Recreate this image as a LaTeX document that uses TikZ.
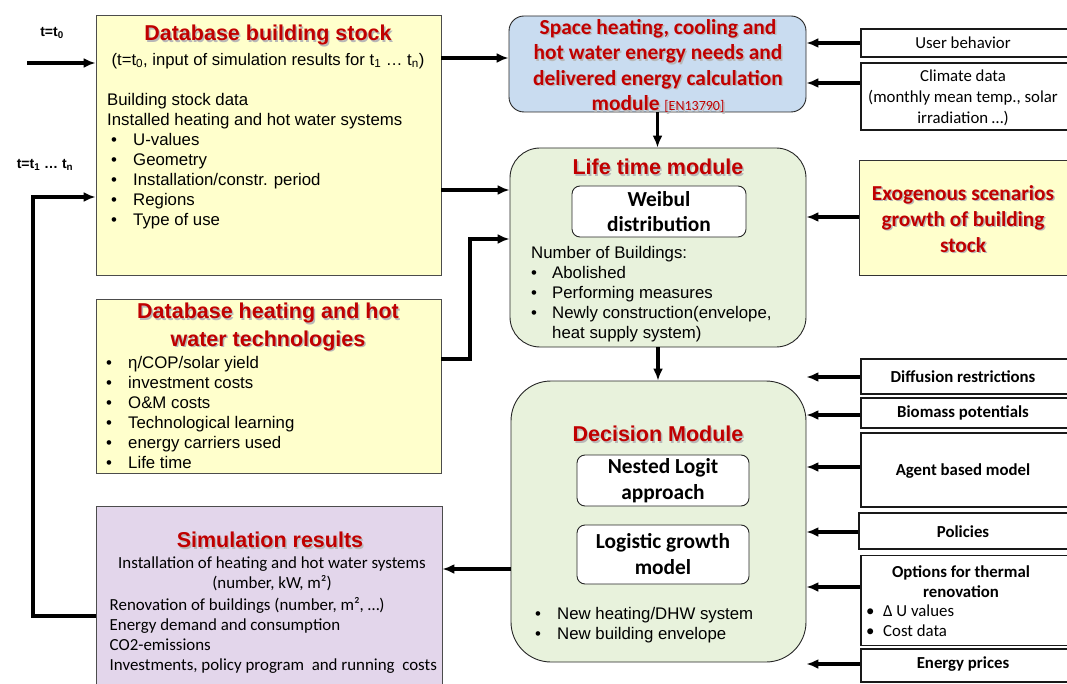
\documentclass[tikz,border=0pt]{standalone}
\usepackage{fontspec}
\setmainfont{Liberation Sans}
\newfontfamily\calib{Carlito}
\usetikzlibrary{arrows.meta}
\definecolor{tred}{HTML}{C00000}
\definecolor{yel}{HTML}{FFFFCC}
\definecolor{blu}{HTML}{C9DCF0}
\definecolor{grn}{HTML}{E8F2DC}
\definecolor{pur}{HTML}{E3D6EB}
\newcommand\bl[1]{\makebox[#1][l]{•}}
\newcommand\shtitle[4]{%
  \node[text=black!28, font=#3, align=center, xshift=1.5pt, yshift=-1.5pt] at (#2) {#4};
  \node[text=tred, font=#3, align=center] (#1) at (#2) {#4};}
\tikzset{
  ybox/.style={draw=black!70, fill=yel, line width=0.9pt, inner sep=0},
  rbox/.style={draw=black!85, line width=0.9pt, inner sep=0, rounded corners=#1},
  ibox/.style={draw=black!85, fill=white, line width=0.9pt, inner sep=0, rounded corners=8pt},
  wbox/.style={draw=black!90, fill=white, line width=1.1pt, inner sep=0},
  arr/.style={line width=3.2pt, -{Latex[length=12pt,width=10pt]}},
  body/.style={font=\fontsize{16.8}{20}\selectfont, align=left, inner sep=0, anchor=north west},
  rtxt/.style={font=\calib\fontsize{16.8}{21}\selectfont, align=center},
  rbold/.style={font=\calib\bfseries\fontsize{16.8}{20}\selectfont, align=center},
}
\begin{document}
\begin{tikzpicture}[x=1pt,y=-1pt]
\useasboundingbox (0,0) rectangle (1067,684);
\clip (0,0) rectangle (1067,684);

% ---------- boxes ----------
\node[ybox, minimum width=345pt, minimum height=260pt] (dbs) at (268.5,145) {};
\node[ybox, minimum width=345pt, minimum height=174pt] (dbh) at (268.5,386) {};
\node[draw=black!70, fill=pur, line width=0.9pt, inner sep=0, minimum width=346pt, minimum height=195pt] (sim) at (269,603.5) {};
\node[rbox=15pt, fill=blu, minimum width=297pt, minimum height=96pt] (space) at (657.5,64) {};
\node[rbox=30pt, fill=grn, minimum width=296pt, minimum height=199pt] (life) at (658,247.5) {};
\node[rbox=40pt, fill=grn, minimum width=295pt, minimum height=281pt] (dec) at (658.5,521.5) {};
\node[ibox, minimum width=174pt, minimum height=51pt] (weib) at (659,211.5) {};
\node[ibox, minimum width=172pt, minimum height=51pt] (nest) at (663,480.5) {};
\node[ibox, minimum width=172pt, minimum height=59pt] (logi) at (663,554.5) {};
\node[ybox, draw=black!80, minimum width=211pt, minimum height=115pt] (exo) at (964.5,217.5) {};
\node[wbox, minimum width=209pt, minimum height=28pt] (user) at (965.5,43) {};
\node[wbox, minimum width=209pt, minimum height=67pt] (clim) at (965.5,96.5) {};
\node[wbox, minimum width=209pt, minimum height=35pt] (diff) at (965.5,376.5) {};
\node[wbox, minimum width=209pt, minimum height=30pt] (bio) at (965.5,413) {};
\node[wbox, minimum width=209pt, minimum height=74pt] (agent) at (965.5,470) {};
\node[wbox, minimum width=211pt, minimum height=36pt] (pol) at (964.5,531) {};
\node[wbox, minimum width=209pt, minimum height=90pt] (opt) at (965.5,600.5) {};
\node[wbox, minimum width=209pt, minimum height=33pt] (epr) at (965.5,665.5) {};

% ---------- titles ----------
\shtitle{tdbs}{268,35}{\bfseries\fontsize{21.5}{27}\selectfont}{Database building stock}
\shtitle{tdbh}{268,327}{\bfseries\fontsize{21.5}{27.5}\selectfont}{Database heating and hot\\water technologies}
\shtitle{tsim}{270,540}{\bfseries\fontsize{21.5}{27}\selectfont}{Simulation results}
\shtitle{tlife}{658,167}{\bfseries\fontsize{21.5}{27}\selectfont}{Life time module}
\shtitle{tdec}{658,434}{\bfseries\fontsize{21.5}{27}\selectfont}{Decision Module}
\shtitle{tspace}{658,66}{\calib\bfseries\fontsize{21.4}{25.5}\selectfont}{Space heating, cooling and\\hot water energy needs and\\delivered energy calculation\\module {\mdseries\fontsize{14}{14}\selectfont[EN13790]}}
\shtitle{texo}{963,219}{\calib\bfseries\fontsize{21.3}{26}\selectfont}{Exogenous scenarios\\growth of building\\stock}

% ---------- texts ----------
\node[font=\bfseries\fontsize{14}{16}\selectfont] (lt0) at (52,33) {t=t\textsubscript{0}};
\node[font=\bfseries\fontsize{14}{16}\selectfont] (lt1) at (45,165) {t=t\textsubscript{1} … t\textsubscript{n}};
\node[font=\fontsize{16.7}{20}\selectfont] (sub) at (268,61) {(t=t\textsubscript{0}, input of simulation results for t\textsubscript{1} … t\textsubscript{n})};
\node[body] (dbstxt) at (107,92.8) {Building stock data\\Installed heating and hot water systems\\
\hspace*{4pt}\bl{22pt}U-values\\\hspace*{4pt}\bl{22pt}Geometry\\\hspace*{4pt}\bl{22pt}Installation/constr. period\\
\hspace*{4pt}\bl{22pt}Regions\\\hspace*{4pt}\bl{22pt}Type of use};
\node[body] (dbhtxt) at (106,355.8) {\bl{22pt}η/COP/solar yield\\\bl{22pt}investment costs\\\bl{22pt}O\&M costs\\
\bl{22pt}Technological learning\\\bl{22pt}energy carriers used\\\bl{22pt}Life time};
\node[font=\calib\bfseries\fontsize{21.4}{25}\selectfont, align=center] (weibt) at (weib.center) {Weibul\\distribution};
\node[body] (lifetxt) at (531,245.8) {Number of Buildings:\\\bl{21pt}Abolished\\\bl{21pt}Performing measures\\
\bl{21pt}Newly construction(envelope,\\\hspace*{21pt}heat supply system)};
\node[font=\calib\bfseries\fontsize{21.4}{26}\selectfont, align=center] (nestt) at (nest.center) {Nested Logit\\approach};
\node[font=\calib\bfseries\fontsize{21.4}{26}\selectfont, align=center] (logit) at (logi.center) {Logistic growth\\model};
\node[body] (dectxt) at (535,606.8) {\bl{22pt}New heating/DHW system\\\bl{22pt}New building envelope};
\node[font=\calib\fontsize{16.9}{20.5}\selectfont, align=center] (simc) at (272,574) {Installation of heating and hot water systems\\(number, kW, m²)};
\node[body, font=\calib\fontsize{16.9}{20}\selectfont] (siml) at (109.5,596.8) {Renovation of buildings (number, m², …)\\Energy demand and consumption\\CO2-emissions\\Investments, policy program\ \ and running\ \ costs};

\node[rtxt] (usert) at (963,43) {User behavior};
\node[rtxt] (climt) at (963,98) {Climate data\\(monthly mean temp., solar\\irradiation …)};
\node[rbold] (difft) at (963,377) {Diffusion restrictions};
\node[rbold] (biot) at (963,413) {Biomass potentials};
\node[rbold] (agentt) at (963,471) {Agent based model};
\node[rbold] (polt) at (963,532) {Policies};
\node[rbold] (optt) at (961,582) {Options for thermal\\renovation};
\node[font=\calib\fontsize{16.8}{20}\selectfont, align=left, inner sep=0, anchor=north west] (optb) at (866,605) {\bl{17pt}Δ U values\\\bl{17pt}Cost data};
\node[rbold] (eprt) at (963,664) {Energy prices};

% ---------- helper coordinates ----------
\coordinate (t0s) at (27,63);
\coordinate (y58) at (0,58);
\coordinate (y190) at (0,190);
\coordinate (y197) at (0,197);
\coordinate (y239) at (0,239);
\coordinate (y359) at (0,359);
\coordinate (y569) at (0,569);
\coordinate (y616) at (0,616);
\coordinate (kx) at (470,0);
\coordinate (fx) at (33,0);
\coordinate (yusr) at (0,43);
\coordinate (ycli) at (0,83);
\coordinate (yexo) at (0,217);
\coordinate (ydif) at (0,377);
\coordinate (ybio) at (0,415);
\coordinate (yag) at (0,467);
\coordinate (ypol) at (0,532);
\coordinate (yopt) at (0,587);
\coordinate (yep) at (0,664);

% ---------- connectors ----------
\draw[arr] (t0s) -- (dbs.west |- t0s);
\draw[arr] (dbs.east |- y58) -- (space.west |- y58);
\draw[arr] (dbs.east |- y190) -- (life.west |- y190);
\draw[arr] (dbh.east |- y359) -| (kx |- y239) -- (life.west |- y239);
\draw[arr] (space.south) -- (space.south |- life.north);
\draw[arr] (life.south) -- (life.south |- dec.north);
\draw[arr] (user.west |- yusr) -- (space.east |- yusr);
\draw[arr] (clim.west |- ycli) -- (space.east |- ycli);
\draw[arr] (exo.west |- yexo) -- (life.east |- yexo);
\draw[arr] (diff.west |- ydif) -- (dec.east |- ydif);
\draw[arr] (bio.west |- ybio) -- (dec.east |- ybio);
\draw[arr] (agent.west |- yag) -- (dec.east |- yag);
\draw[arr] (pol.west |- ypol) -- (dec.east |- ypol);
\draw[arr] (opt.west |- yopt) -- (dec.east |- yopt);
\draw[arr] (epr.west |- yep) -- (dec.east |- yep);
\draw[arr] (dec.west |- y569) -- (sim.east |- y569);
\draw[arr] (sim.west |- y616) -| (fx |- y197) -- (dbs.west |- y197);
\end{tikzpicture}
\end{document}
